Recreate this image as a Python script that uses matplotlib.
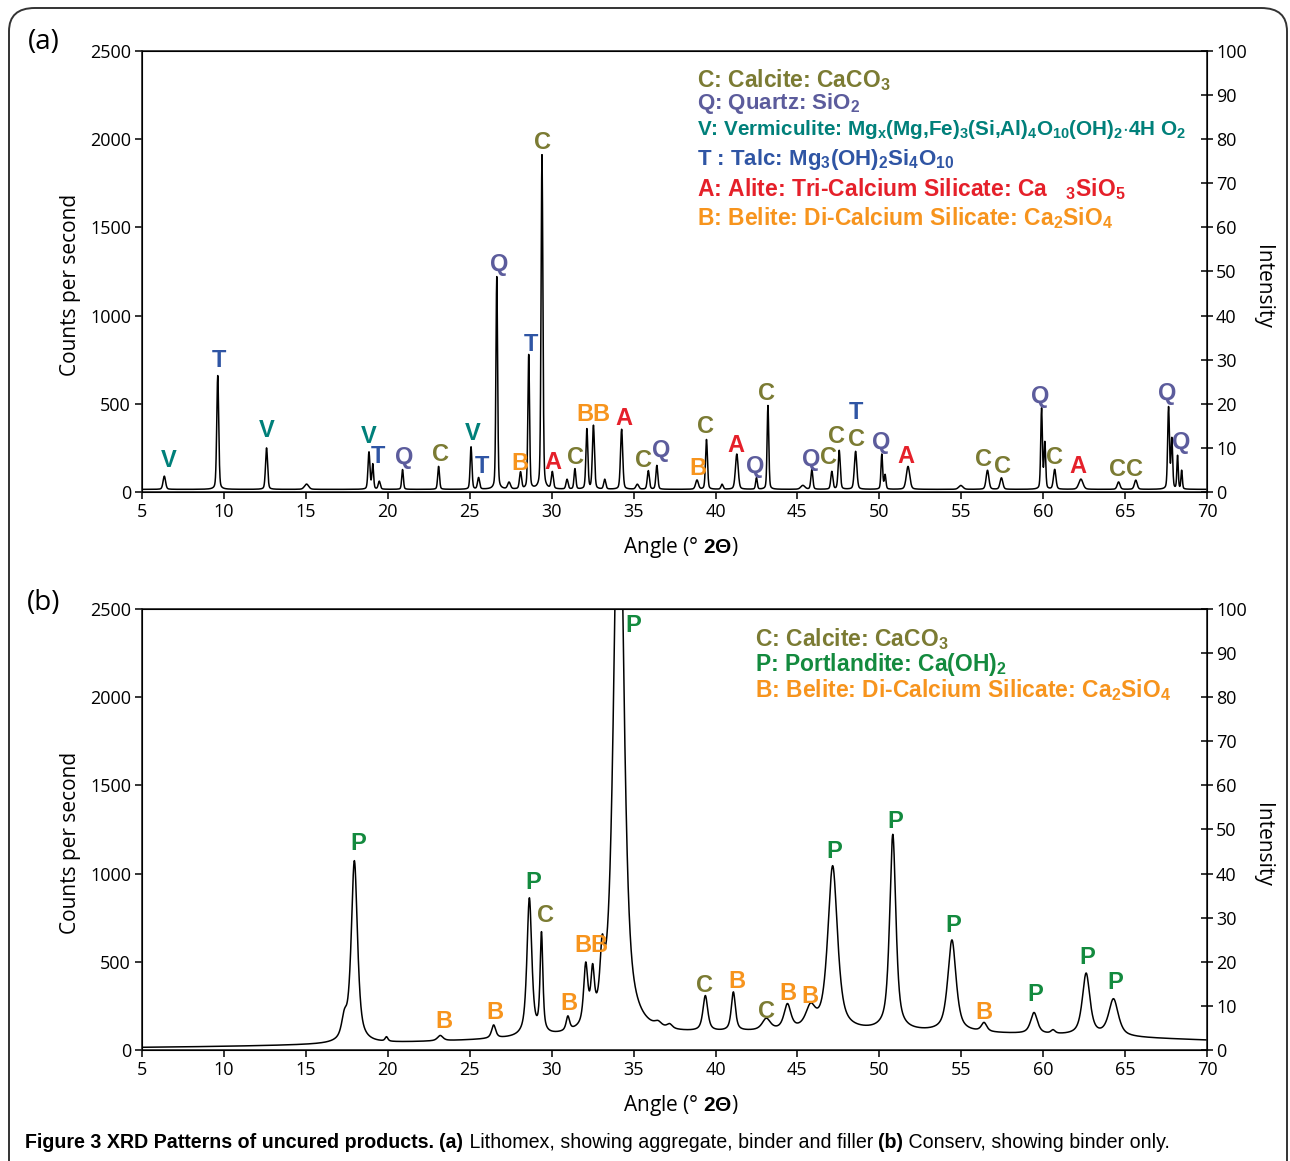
import numpy as np
import matplotlib
matplotlib.use("Agg")
import matplotlib.pyplot as plt
from matplotlib.patches import FancyBboxPatch

plt.rcParams['font.family'] = ['Open Sans', 'DejaVu Sans']
plt.rcParams['mathtext.fontset'] = 'custom'
plt.rcParams['mathtext.rm'] = 'Liberation Sans:bold'
plt.rcParams['mathtext.bf'] = 'Liberation Sans:bold'
plt.rcParams['mathtext.it'] = 'Liberation Sans:bold:italic'

# phase colours
COL = {'C': '#7b7b33', 'Q': '#5c5c9c', 'V': '#00807a', 'T': '#2f55a4',
       'A': '#e5202a', 'B': '#f7941d', 'P': '#138a3e'}

# ---- panel (a): Lithomex, peaks (2theta, net counts, fwhm)
peaks_a_pos = [6.36, 9.62, 12.6, 15.04, 18.85, 19.08, 19.48, 20.9, 23.1, 25.08,
               25.54, 26.65, 27.4, 28.1, 28.6, 29.41, 30.04, 30.94, 31.42, 32.15,
               32.55, 33.24, 34.27, 35.23, 35.9, 36.42, 38.87, 39.45, 40.4, 41.3,
               42.5, 43.2, 45.33, 45.88, 47.1, 47.55, 48.55, 50.15, 50.35, 51.75,
               54.97, 56.6, 57.45, 59.9, 60.1, 60.7, 62.3, 64.6, 65.65, 67.65,
               67.85, 68.2, 68.45]
peaks_a_height = [75, 645, 235, 30, 210, 140, 45, 112, 130, 240,
                  65, 1205, 38, 95, 760, 1895, 95, 55, 115, 340,
                  360, 55, 340, 28, 105, 135, 52, 282, 28, 200,
                  65, 475, 22, 112, 100, 220, 215, 198, 80, 130,
                  22, 108, 65, 455, 260, 112, 58, 42, 52, 462,
                  280, 188, 105]
peaks_a_fwhm = [0.18, 0.14, 0.15, 0.3, 0.14, 0.12, 0.15, 0.12, 0.13, 0.13,
                0.15, 0.12, 0.2, 0.15, 0.12, 0.13, 0.15, 0.15, 0.13, 0.14,
                0.15, 0.15, 0.16, 0.2, 0.15, 0.14, 0.2, 0.14, 0.15, 0.2,
                0.12, 0.12, 0.3, 0.14, 0.15, 0.15, 0.18, 0.12, 0.12, 0.25,
                0.3, 0.2, 0.2, 0.12, 0.12, 0.18, 0.3, 0.2, 0.2, 0.13,
                0.12, 0.1, 0.1]
background_a = 15

labels_a_text = ['V', 'T', 'V', 'V', 'T', 'Q', 'C', 'V', 'T', 'Q', 'B', 'T', 'C', 'A',
                 'C', 'B', 'B', 'A', 'C', 'Q', 'B', 'C', 'A', 'Q', 'C', 'Q', 'C', 'C',
                 'T', 'C', 'Q', 'A', 'C', 'C', 'Q', 'C', 'A', 'C', 'C', 'Q', 'Q']
labels_a_x = [6.65, 9.70, 12.62, 18.84, 19.39, 20.98, 23.23, 25.18, 25.73, 26.77,
              28.05, 28.72, 29.45, 30.06, 31.46, 32.01, 32.99, 34.39, 35.61, 36.71,
              38.9, 39.39, 41.22, 42.44, 43.11, 45.85, 46.89, 47.38, 48.6, 48.6,
              50.12, 51.65, 56.34, 57.5, 59.82, 60.67, 62.13, 64.51, 65.55, 67.56,
              68.41]
labels_a_y = [176, 748, 351, 312, 204, 198, 215, 334, 147, 1287,
              164, 839, 1984, 170, 193, 442, 442, 414, 181, 238,
              136, 374, 261, 147, 561, 187, 198, 312, 448, 295,
              283, 204, 187, 147, 539, 193, 147, 125, 125, 561,
              278]

legend_a = [('C', r'C: Calcite: CaCO$_\mathbf{3}$', 16.5),
            ('Q', r'Q: Quartz: SiO$_\mathbf{2}$', 16),
            ('V', r'V: Vermiculite: Mg$_\mathbf{x}$(Mg,Fe)$_\mathbf{3}$(Si,Al)$_\mathbf{4}$'
                  r'O$_\mathbf{10}$(OH)$_\mathbf{2}$$\cdot$4H O$_\mathbf{2}$', 14.9),
            ('T', r'T : Talc: Mg$_\mathbf{3}$(OH)$_\mathbf{2}$Si$_\mathbf{4}$O$_\mathbf{10}$', 16),
            ('A', r'A: Alite: Tri-Calcium Silicate: Ca   $_\mathbf{3}$SiO$_\mathbf{5}$', 16.5),
            ('B', r'B: Belite: Di-Calcium Silicate: Ca$_\mathbf{2}$SiO$_\mathbf{4}$', 16.5)]

# ---- panel (b): Conserv
peaks_b_pos = [17.35, 17.96, 19.92, 23.2, 26.46, 28.64, 29.38, 30.99, 32.08, 32.5,
               33.08, 34.1, 36.5, 37.2, 39.38, 41.09, 43.1, 44.39, 45.8, 47.15,
               50.82, 54.43, 56.39, 59.44, 60.6, 62.62, 64.29]
peaks_b_height = [110, 1030, 25, 30, 75, 780, 560, 80, 330, 260,
                  300, 3500, 25, 25, 200, 220, 65, 140, 115, 930,
                  1110, 520, 50, 120, 20, 350, 210]
peaks_b_fwhm = [0.4, 0.45, 0.2, 0.4, 0.3, 0.35, 0.2, 0.25, 0.3, 0.25,
                0.3, 0.7, 0.5, 0.4, 0.35, 0.3, 0.6, 0.5, 0.7, 0.7,
                0.45, 0.6, 0.4, 0.5, 0.3, 0.55, 0.7]
background_b = 8
hump_b = (48.0, 95.0, 44.0)   # centre, height, fwhm of the amorphous hump

labels_b_text = ['P', 'B', 'B', 'P', 'C', 'B', 'B', 'B', 'P', 'C', 'B', 'C', 'B',
                 'B', 'P', 'P', 'P', 'B', 'P', 'P', 'P']
labels_b_x = [18.17, 23.41, 26.52, 28.9, 29.63, 31.04, 31.89, 32.87, 35.0, 39.33,
              41.28, 43.11, 44.45, 45.79, 47.26, 50.98, 54.51, 56.4, 59.51, 62.68,
              64.39]
labels_b_y = [1173, 159, 210, 952, 760, 266, 590, 590, 2404, 368,
              391, 221, 323, 306, 1128, 1298, 703, 215, 312, 527,
              380]

legend_b = [('C', r'C: Calcite: CaCO$_\mathbf{3}$', 16.5),
            ('P', r'P: Portlandite: Ca(OH)$_\mathbf{2}$', 16.5),
            ('B', r'B: Belite: Di-Calcium Silicate: Ca$_\mathbf{2}$SiO$_\mathbf{4}$', 16.5)]

x_ticks = list(range(5, 75, 5))
count_ticks = [0, 500, 1000, 1500, 2000, 2500]
intensity_ticks = list(range(0, 110, 10))


def pattern(x, pos, height, fwhm, eta, bg):
    y = np.full_like(x, float(bg))
    for p, h, w in zip(pos, height, fwhm):
        d = (x - p) / w
        y += h * (eta / (1 + 4 * d ** 2) + (1 - eta) * np.exp(-4 * np.log(2) * d ** 2))
    return y


def draw_panel(ax, x, y, labels, lx, ly, legend, leg_x, leg_y):
    ax.plot(x, y, color='black', lw=1.1)
    ax.set_xlim(5, 70)
    ax.set_ylim(0, 2500)
    ax.set_xticks(x_ticks)
    ax.set_yticks(count_ticks)
    ax.tick_params(direction='out', length=5, width=1.1, labelsize=13, pad=3)
    for s in ax.spines.values():
        s.set_linewidth(1.2)
        s.set_color('#222222')
    ax2 = ax.twinx()
    ax2.set_ylim(0, 100)
    ax2.set_yticks(intensity_ticks)
    ax2.tick_params(direction='inout', length=9, width=1.1, labelsize=13, pad=2)
    for t, tx, ty in zip(labels, lx, ly):
        ax.text(tx, ty, t, color=COL[t], fontsize=17, fontweight='bold',
                family=['Liberation Sans'], ha='center', va='center')
    for (k, s, fs), yy in zip(legend, leg_y):
        ax.text(leg_x, yy, s, color=COL[k], fontsize=fs, fontweight='bold',
                family=['Liberation Sans'], transform=ax.transAxes,
                ha='left', va='center')
    ax.text(-0.067, 0.47, 'Counts per second', rotation=90, fontsize=15,
            transform=ax.transAxes, ha='center', va='center')
    ax.text(1.052, 0.465, 'Intensity', rotation=270, fontsize=15,
            transform=ax.transAxes, ha='center', va='center')
    ax.text(0.506, -0.125, r'Angle (° $\mathbf{2\Theta}$)', fontsize=15,
            transform=ax.transAxes, ha='center', va='center')


fig = plt.figure(figsize=(12.9, 11.61), dpi=100)
ax_a = fig.add_axes([0.1101, 0.5762, 0.8256, 0.3799])
ax_b = fig.add_axes([0.1101, 0.0956, 0.8256, 0.3799])

x = np.linspace(5, 70, 6501)
y_a = pattern(x, peaks_a_pos, peaks_a_height, peaks_a_fwhm, 0.3, background_a)
y_b = pattern(x, peaks_b_pos, peaks_b_height, peaks_b_fwhm, 0.7, background_b)
y_b += hump_b[1] * np.exp(-4 * np.log(2) * ((x - hump_b[0]) / hump_b[2]) ** 2)

draw_panel(ax_a, x, y_a, labels_a_text, labels_a_x, labels_a_y, legend_a,
           0.521, [0.934, 0.880, 0.823, 0.753, 0.687, 0.621])
draw_panel(ax_b, x, y_b, labels_b_text, labels_b_x, labels_b_y, legend_b,
           0.576, [0.932, 0.875, 0.816])

fig.text(0.0341, 0.9638, '(a)', fontsize=20, ha='center', va='center')
fig.text(0.0341, 0.4806, '(b)', fontsize=20, ha='center', va='center')

# rounded frame around the figure (runs off the bottom edge)
frame = FancyBboxPatch((9 / 1290, -0.05), (1287 - 9) / 1290, 1.05 - 8 / 1161,
                       boxstyle='round,pad=0,rounding_size=0.02',
                       transform=fig.transFigure, fill=False, lw=1.4,
                       edgecolor='#333333', clip_on=False)
fig.add_artist(frame)

# caption, written piece by piece so bold and regular parts join up
caption = [('Figure 3 XRD Patterns of uncured products. ', 'bold'),
           ('(a)', 'bold'),
           (' Lithomex, showing aggregate, binder and filler ', 'normal'),
           ('(b)', 'bold'),
           (' Conserv, showing binder only.', 'normal')]
renderer = fig.canvas.get_renderer()
cx = 25 / 1290
for s, w in caption:
    t = fig.text(cx, 1 - 1143 / 1161, s, fontsize=14.1, fontweight=w,
                 family=['Liberation Sans'], ha='left', va='center')
    bb = t.get_window_extent(renderer)
    cx += bb.width / fig.bbox.width

fig.savefig('out.png', dpi=100)
